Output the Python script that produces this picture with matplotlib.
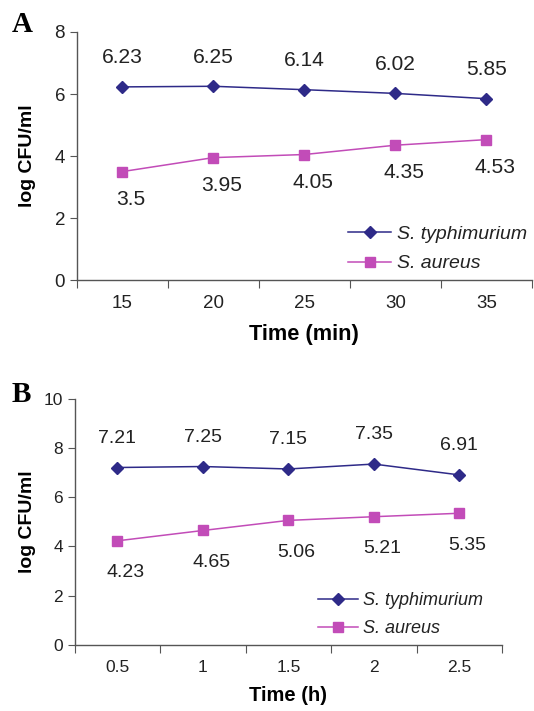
"""
Bacterial counts (log CFU/ml) over time, two panels.
"""
import matplotlib.pyplot as plt

plt.rcParams["font.family"] = ["Liberation Sans", "DejaVu Sans"]

# Panel A: time in minutes
time_min = ["15", "20", "25", "30", "35"]
typhi_a = [6.23, 6.25, 6.14, 6.02, 5.85]
aureus_a = [3.5, 3.95, 4.05, 4.35, 4.53]

# Panel B: time in hours
time_h = ["0.5", "1", "1.5", "2", "2.5"]
typhi_b = [7.21, 7.25, 7.15, 7.35, 6.91]
aureus_b = [4.23, 4.65, 5.06, 5.21, 5.35]

BLUE = "#2e2a88"
PINK = "#c24cb8"
SPINE = "#555555"
TEXT = "#222222"


def draw_panel(ax, cats, typhi, aureus, ymax, xlabel, legend_anchor,
               scale=1.0, below=-21, ylabel_x=-0.108):
    x = list(range(len(cats)))
    ax.plot(x, typhi, color=BLUE, lw=1.1, marker="D", ms=6,
            label="S. typhimurium")
    ax.plot(x, aureus, color=PINK, lw=1.1, marker="s", ms=6.5,
            label="S. aureus")

    # Excel-style data labels: above for one series, below for the other
    for xi, v in zip(x, typhi):
        ax.annotate(f"{v:g}", (xi, v), xytext=(0, 21), textcoords="offset points",
                    ha="center", va="center", fontsize=14 * scale, color=TEXT)
    for xi, v in zip(x, aureus):
        ax.annotate(f"{v:g}", (xi, v), xytext=(6, below), textcoords="offset points",
                    ha="center", va="center", fontsize=14 * scale, color=TEXT)

    ax.set_xlim(-0.5, len(cats) - 0.5)
    ax.set_ylim(0, ymax)
    ax.set_yticks(range(0, ymax + 1, 2))
    # category axis: tick marks between categories, labels at centres
    ax.set_xticks([i - 0.5 for i in range(len(cats) + 1)])
    ax.set_xticklabels([])
    ax.set_xticks(x, minor=True)
    ax.set_xticklabels(cats, minor=True)
    ax.tick_params(axis="x", which="major", length=6, color=SPINE, direction="out")
    ax.tick_params(axis="x", which="minor", length=0, pad=11,
                   labelsize=12.5 * scale, labelcolor=TEXT)
    ax.tick_params(axis="y", length=5, color=SPINE, labelsize=12.5 * scale,
                   labelcolor=TEXT)

    for side in ("top", "right"):
        ax.spines[side].set_visible(False)
    for side in ("left", "bottom"):
        ax.spines[side].set_color(SPINE)
        ax.spines[side].set_linewidth(1.0)

    ax.set_xlabel(xlabel, fontsize=14.5 * scale, fontweight="bold", labelpad=8)
    ax.set_ylabel("log CFU/ml", fontsize=14, fontweight="bold", va="center")
    ax.yaxis.set_label_coords(ylabel_x, 0.5)

    leg = ax.legend(loc="upper left", bbox_to_anchor=legend_anchor, frameon=False,
                    prop={"size": 13 * scale, "style": "italic"}, handlelength=2.2,
                    handletextpad=0.3, labelspacing=0.6, borderpad=0)
    for t in leg.get_texts():
        t.set_color(TEXT)


fig = plt.figure(figsize=(5.34, 7.11), dpi=100)

ax_a = fig.add_axes([0.144, 0.606, 0.852, 0.349])
draw_panel(ax_a, time_min, typhi_a, aureus_a, 8, "Time (min)", (0.575, 0.26),
           scale=1.08, below=-20, ylabel_x=-0.108)

ax_b = fig.add_axes([0.140, 0.093, 0.800, 0.346])
draw_panel(ax_b, time_h, typhi_b, aureus_b, 10, "Time (h)", (0.548, 0.25),
           scale=1.0, below=-23, ylabel_x=-0.110)

fig.text(0.022, 0.965, "A", fontsize=21, fontweight="bold",
         family="Liberation Serif", va="center")
fig.text(0.022, 0.445, "B", fontsize=21, fontweight="bold",
         family="Liberation Serif", va="center")

plt.savefig("out.png", dpi=100)
plt.close()
